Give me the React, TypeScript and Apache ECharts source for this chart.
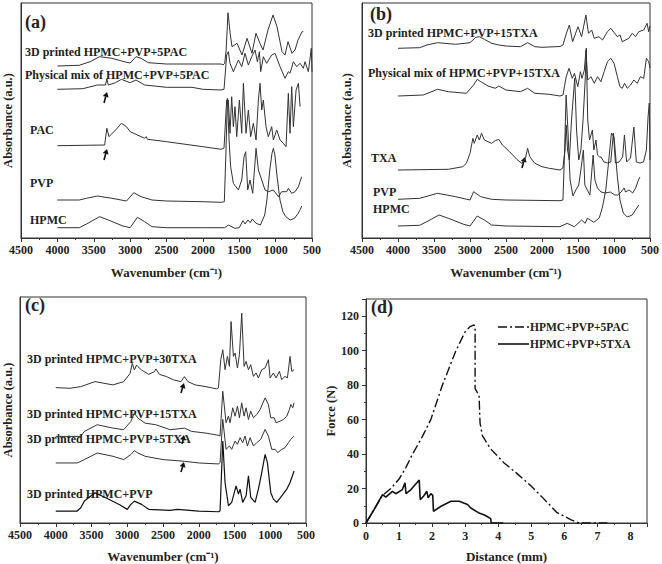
import React, { useEffect, useRef } from "react";
import * as echarts from "echarts";

// ---------------- Panel (a) spectra: [wavenumber cm-1, absorbance a.u.] ----------------
const aPrinted5PAC = [[4000,172],[3700,172.7],[3550,176.3],[3420,181.3],[3250,179.7],[3050,175.7],[3000,175],[2920,181.3],[2850,179.7],[2750,175.3],[2500,174],[2000,174],[1750,174],[1723,173],[1700,174.7],[1680,188],[1655,225.3],[1625,204.7],[1600,191.3],[1530,194.7],[1462,183],[1393,199.7],[1325,184.7],[1270,204.7],[1215,194.7],[1173,188],[1105,208],[1036,223],[981,211.3],[912,186.3],[871,183],[830,196.3],[775,184.7],[734,188],[692,198],[637,206.3],[620,206.3]];
const aMix5PAC = [[4000,148.7],[3650,149.3],[3450,153],[3340,153],[3320,159],[3300,153],[3200,155.3],[3120,158.7],[3000,155.3],[2920,158],[2800,153],[2500,150.7],[2150,150.7],[2000,148.7],[1750,148],[1709,148.7],[1673,183],[1650,186.3],[1627,174.7],[1581,166.3],[1512,178],[1466,171.3],[1421,184.7],[1375,173],[1329,181.3],[1283,188],[1251,176.3],[1223,186.3],[1205,166.3],[1169,181.3],[1123,174.7],[1054,183],[1008,184.7],[939,171.3],[871,159.7],[825,166.3],[802,164.7],[756,176.3],[710,171.3],[664,174.7],[619,169.7],[596,176.3],[550,166.3],[510,189.7],[500,166]];
const aPAC = [[4000,92.3],[3350,93],[3320,109.7],[3290,101.3],[3200,108],[3120,114.7],[3050,111.3],[3000,106.3],[2800,99.7],[2780,101.3],[2760,98.7],[2500,96.3],[2000,91.3],[1750,88.7],[1709,90],[1673,138],[1650,138],[1627,104.7],[1604,141.3],[1581,111.3],[1558,131.3],[1535,101.3],[1498,138],[1466,104.7],[1443,154.7],[1407,104.7],[1375,128],[1343,101.3],[1306,114.7],[1269,98],[1237,138],[1214,154.7],[1191,128],[1169,138],[1132,111.3],[1100,101.3],[1054,111.3],[1031,98],[985,108],[939,98],[894,94.7],[857,91.3],[825,144.7],[802,104.7],[779,151.3],[756,111.3],[719,148],[687,154.7],[664,131.3]];
const aPVP = [[4000,38],[3700,38],[3600,39.7],[3450,42],[3250,39.7],[3050,37],[2950,45.3],[2850,41.3],[2700,38],[2500,37],[2000,36.3],[1750,35.7],[1705,36.3],[1682,88],[1663,139.7],[1640,98],[1618,71.3],[1581,54.7],[1512,48],[1466,58],[1434,81.3],[1411,86.3],[1384,48],[1352,58],[1315,44.7],[1269,89.7],[1237,68],[1191,58],[1146,48],[1100,46.3],[1031,48],[962,41.3],[917,46.3],[848,46.3],[825,49.7],[779,44.7],[733,46.3],[687,51.3],[642,61.3]];
const aHPMC = [[4000,10.3],[3700,10.3],[3600,14],[3420,21.3],[3300,18],[3100,12],[3000,10.3],[2900,20.7],[2800,16.3],[2700,11.3],[2500,10.3],[2000,10.3],[1700,10.3],[1650,13],[1560,9.7],[1500,10.3],[1450,17.3],[1420,14],[1380,18],[1350,15.3],[1320,19],[1270,14.7],[1210,13],[1150,23],[1120,38],[1080,68],[1050,84.7],[1031,89.7],[1010,83],[980,61.3],[940,38],[900,26.3],[860,21.3],[800,18],[740,19.7],[690,24.7],[660,28.7],[642,32]];

// ---------------- Panel (b) ----------------
const bPrinted15TXA = [[4000,189.7],[3700,190.3],[3600,193],[3450,195.3],[3200,193.7],[3000,195.3],[2920,200.7],[2870,201.3],[2800,198.7],[2700,194.7],[2600,193],[2500,192],[2300,191.3],[2200,195.3],[2100,191.3],[2000,190.7],[1750,191.5],[1709,193],[1660,205],[1620,213],[1575,196.3],[1500,211.3],[1450,201.3],[1390,223],[1355,204.7],[1310,208],[1275,199.7],[1210,201.3],[1160,198],[1091,206.3],[1045,209.7],[990,204.7],[953,201.3],[917,203],[885,196.3],[839,198],[793,199.7],[747,204.7],[701,201.3],[656,206.3],[587,208],[541,214.7],[518,206.3],[500,212]];
const bMix15TXA = [[4000,142],[3650,143],[3450,148.7],[3300,146.3],[3050,144.7],[2950,153],[2900,158.7],[2850,156.3],[2750,152],[2650,149.7],[2600,152],[2500,148],[2300,146.3],[2200,149.7],[2100,144.7],[1900,143.7],[1750,142],[1709,143],[1664,161.3],[1625,169.7],[1580,159.7],[1549,164.7],[1503,151.3],[1467,166.3],[1444,159.7],[1412,168],[1389,188],[1366,158],[1320,161.3],[1274,154.7],[1228,161.3],[1182,156.3],[1137,166.3],[1091,176.3],[1045,179.7],[999,174.7],[953,161.3],[917,151.3],[885,149.7],[853,154.7],[816,149.7],[770,153],[724,158],[678,154.7],[633,161.3],[587,159.7],[550,179.7],[518,176.3],[500,170]];
const bTXA = [[4000,68],[3300,68.7],[3100,71.3],[3050,74.7],[3000,84.7],[2960,99.7],[2940,94.7],[2900,103],[2870,98],[2840,104.7],[2800,98],[2750,96.3],[2700,94.7],[2650,97.3],[2600,98.7],[2550,93],[2450,86.3],[2350,78.7],[2280,74.7],[2230,79.7],[2200,89.7],[2170,81.3],[2100,74.7],[2000,71.3],[1900,69.7],[1750,68],[1710,70],[1680,88],[1665,113],[1645,88],[1620,78],[1590,118],[1545,160],[1520,108],[1490,78],[1460,88],[1430,118],[1400,158],[1385,190],[1365,118],[1340,98],[1300,108],[1280,88],[1250,98],[1230,83],[1200,81],[1180,81],[1140,76],[1090,75],[1045,76],[1008,105],[980,75],[930,76],[880,81],[855,103],[825,76],[770,80],[724,111],[690,76],[640,75],[590,76],[550,88],[527,121],[510,135],[500,78]];
const bPVP = [[4000,38.7],[3700,39.7],[3450,44.7],[3200,41.3],[3000,38],[2950,46.3],[2850,41.3],[2700,38.7],[2500,38],[1750,37.3],[1709,38],[1690,78],[1665,143],[1640,108],[1610,58],[1570,42],[1530,48],[1490,53],[1460,68],[1425,88],[1405,53],[1370,48],[1335,43],[1290,83],[1265,58],[1230,50],[1180,46],[1120,45],[1050,46],[990,43],[950,43],[900,46],[860,50],[840,46],[790,48],[740,45],[700,50],[660,58],[640,61]];
const bHPMC = [[4000,12],[3700,12.7],[3600,16.3],[3430,23],[3300,19.7],[3100,14],[3000,12],[2900,22],[2800,18],[2700,13],[2500,12],[1750,11.3],[1650,14.7],[1550,11.3],[1450,18],[1400,14.7],[1370,19.7],[1330,18],[1280,15.7],[1205,20],[1160,31],[1114,48],[1068,81],[1036,105],[999,101],[953,61],[917,38],[871,25],[816,21],[747,23],[701,28],[656,33]];

// ---------------- Panel (c) ----------------
const c30TXA = [[4000,136],[3800,135.3],[3650,137],[3450,142],[3200,138.7],[3050,142],[2960,150.3],[2930,160.3],[2900,153.7],[2870,158.7],[2850,157],[2800,153.7],[2700,149.3],[2620,152],[2600,154.7],[2550,149.3],[2450,147],[2350,143.7],[2250,142],[2200,147],[2150,142],[2050,138.7],[1900,137],[1750,134.7],[1725,135.7],[1692,164],[1664,174],[1632,154],[1599,167.3],[1571,157.3],[1548,202.3],[1515,167.3],[1492,170.7],[1459,155.7],[1431,169],[1399,210.7],[1366,157.3],[1338,162.3],[1305,154],[1273,159],[1235,147.3],[1198,150.7],[1166,145.7],[1119,154],[1072,155.7],[1026,164],[1002,145.7],[956,150.7],[918,145.7],[872,152.3],[839,144],[793,147.3],[760,145.7],[723,167.3],[699,152.3],[667,154]];
const c15TXA = [[4000,87],[3650,87],[3600,92],[3420,98.7],[3200,95.3],[3050,93.7],[2950,102],[2900,110.3],[2850,105.3],[2750,100.3],[2600,98.7],[2400,93.7],[2200,95.3],[2100,92],[1900,90.3],[1720,88],[1702,87.3],[1664,132.3],[1618,100.7],[1585,107.3],[1562,100.7],[1525,115.7],[1492,107.3],[1459,117.3],[1431,105.7],[1399,120.7],[1366,107.3],[1338,115.7],[1305,104],[1273,112.3],[1235,105.7],[1189,109],[1142,114],[1072,125.7],[1026,119],[993,105.7],[946,105.7],[918,100.7],[862,102.3],[816,104],[769,107.3],[732,114],[713,119],[685,115.7],[667,120.7]];
const c5TXA = [[4000,60.3],[3700,60.3],[3600,63.7],[3420,70.3],[3200,67],[3050,63.7],[2950,68.7],[2900,72.7],[2850,70.3],[2750,67],[2500,63.7],[2200,62],[2000,60.3],[1720,59.3],[1702,60.7],[1664,104],[1618,74],[1571,77.3],[1539,74],[1492,82.3],[1459,79],[1422,85.7],[1385,80.7],[1352,87.3],[1319,77.3],[1282,85.7],[1235,77.3],[1189,80.7],[1133,84],[1072,94],[1026,87.3],[979,74],[932,74],[895,70.7],[839,74],[793,75.7],[746,80.7],[713,84],[667,87.3]];
const cBase = [[4000,12],[3700,12],[3650,15.3],[3600,22],[3450,30.3],[3300,25.3],[3100,18],[3000,13.7],[2950,18.7],[2900,22],[2800,18.7],[2700,13.7],[2400,12.7],[2300,13.7],[2000,12],[1720,11.3],[1702,12.3],[1664,82.3],[1632,40.7],[1585,17.3],[1539,20.7],[1478,37.3],[1445,29],[1422,34],[1385,20.7],[1338,27.3],[1305,47.3],[1273,25.7],[1212,20.7],[1166,34],[1119,50.7],[1072,69],[1040,60.7],[993,30.7],[956,24],[909,20.7],[839,27.3],[769,34],[723,40.7],[667,52.3]];

// ---------------- Panel (d) force–distance ----------------
const distPAC = [0,0.5,0.75,1.0,1.2,1.41,1.7,1.96,2.31,2.72,3.0,3.15,3.27,3.3,3.3,3.42,3.45,3.52,3.77,4.17,4.58,4.98,5.38,5.78,6.19,6.44,7.3];
const forcePAC = [0,16,20,25.5,32,40,50,60,80,100,111,114,115,113,78,74,58,50.7,43,35,28.5,21.7,14,6,2,0,0];
const distTXA = [0,0.25,0.5,0.6,0.8,0.9,1.1,1.18,1.21,1.36,1.61,1.64,1.74,1.84,1.88,1.96,2.02,2.04,2.27,2.57,2.82,3.07,3.17,3.4,3.6,3.77,3.79,4.15];
const forceTXA = [0,8,16.5,15,18.4,17,19.4,23.3,17,19.4,24.9,13.6,15.5,18.4,14.6,17,16,6.8,9.7,12.6,12.6,10.7,8.7,6,4.5,2.5,0,0];

const legendNames = ["HPMC+PVP+5PAC", "HPMC+PVP+5TXA"];

const FONT = '"Liberation Serif", "Times New Roman", serif';
const INK = "#222";
const DASHDOT = [9, 3, 2, 3];

function spectrum(data: number[][], idx: number) {
  return {
    type: "line",
    xAxisIndex: idx,
    yAxisIndex: idx,
    data,
    symbol: "none",
    showSymbol: false,
    silent: true,
    lineStyle: { width: 1, color: "#333" },
  };
}

const plain = (v: number) => String(v);

function wnAxis(idx: number) {
  return {
    gridIndex: idx,
    type: "value",
    min: 500,
    max: 4500,
    interval: 500,
    inverse: true,
    axisLine: { lineStyle: { color: "#333", width: 1 } },
    axisTick: { show: true, length: 4, lineStyle: { color: "#333" } },
    minorTick: { show: true, splitNumber: 2, length: 2, lineStyle: { color: "#333" } },
    splitLine: { show: false },
    axisLabel: { fontFamily: FONT, fontWeight: "bold", fontSize: 12, color: INK, margin: 6, formatter: plain },
    name: "Wavenumber (cm⁻¹)",
    nameLocation: "middle",
    nameGap: 28,
    nameTextStyle: { fontFamily: FONT, fontWeight: "bold", fontSize: 13, color: INK },
  };
}

function absAxis(idx: number, max: number, gap: number) {
  return {
    gridIndex: idx,
    type: "value",
    min: 0,
    max,
    axisLine: { show: true, lineStyle: { color: "#333" } },
    axisTick: { show: false },
    axisLabel: { show: false },
    splitLine: { show: false },
    name: "Absorbance (a.u.)",
    nameLocation: "middle",
    nameGap: gap,
    nameTextStyle: { fontFamily: FONT, fontWeight: "bold", fontSize: 12.5, color: INK },
  };
}

function label(text: string, x: number, y: number, size = 12) {
  return {
    type: "text",
    x,
    y,
    silent: true,
    style: {
      text,
      font: `bold ${size}px ${FONT}`,
      fill: INK,
      align: "left",
      verticalAlign: "middle",
      textAlign: "left",
      textVerticalAlign: "middle",
    },
  };
}

function arrow(x1: number, y1: number, x2: number, y2: number) {
  const dx = x2 - x1, dy = y2 - y1;
  const L = Math.hypot(dx, dy);
  const ux = dx / L, uy = dy / L;
  const nx = -uy, ny = ux;
  const bx = x2 - ux * 5, by = y2 - uy * 5;
  return {
    type: "group",
    silent: true,
    children: [
      { type: "line", shape: { x1, y1, x2: bx, y2: by }, style: { stroke: "#111", lineWidth: 1.6 } },
      {
        type: "polygon",
        shape: { points: [[x2, y2], [bx + nx * 3, by + ny * 3], [bx - nx * 3, by - ny * 3]] },
        style: { fill: "#111" },
      },
    ],
  };
}

function legendRow(name: string, y: number, dash: number[] | null, width: number) {
  return [
    {
      type: "line",
      silent: true,
      shape: { x1: 498, y1: y, x2: 529, y2: y },
      style: { stroke: "#111", lineWidth: width, lineDash: dash || undefined },
    },
    label(name, 530, y, 11.5),
  ];
}

const gridBase = { show: true, borderColor: "#333", borderWidth: 1, backgroundColor: "transparent" };

const option: any = {
  animation: false,
  backgroundColor: "#fff",
  grid: [
    { ...gridBase, left: 21, top: 3, width: 291, height: 235 },
    { ...gridBase, left: 362, top: 3, width: 291, height: 235 },
    { ...gridBase, left: 20, top: 297, width: 286, height: 227 },
    { ...gridBase, left: 366, top: 299, width: 281, height: 224 },
  ],
  xAxis: [
    wnAxis(0),
    wnAxis(1),
    { ...wnAxis(2), nameGap: 27 },
    {
      gridIndex: 3,
      type: "value",
      min: 0,
      max: 8.5,
      interval: 1,
      axisLine: { lineStyle: { color: "#333" } },
      axisTick: { show: true, length: 4, lineStyle: { color: "#333" } },
      minorTick: { show: true, splitNumber: 2, length: 2, lineStyle: { color: "#333" } },
      splitLine: { show: false },
      axisLabel: { fontFamily: FONT, fontWeight: "bold", fontSize: 12, color: INK, margin: 7, showMaxLabel: false },
      name: "Distance (mm)",
      nameLocation: "middle",
      nameGap: 27,
      nameTextStyle: { fontFamily: FONT, fontWeight: "bold", fontSize: 13, color: INK },
    },
    {
      gridIndex: 3,
      type: "value",
      position: "top",
      min: 0,
      max: 8.5,
      interval: 1,
      axisLine: { show: false },
      axisTick: { show: true, inside: true, length: 4, lineStyle: { color: "#333" } },
      minorTick: { show: false },
      splitLine: { show: false },
      axisLabel: { show: false },
    },
  ],
  yAxis: [
    absAxis(0, 235, 7),
    absAxis(1, 235, 9),
    absAxis(2, 227, 6),
    {
      gridIndex: 3,
      type: "value",
      min: 0,
      max: 130,
      interval: 20,
      axisLine: { show: true, lineStyle: { color: "#333" } },
      axisTick: { show: true, length: 4, lineStyle: { color: "#333" } },
      minorTick: { show: true, splitNumber: 2, length: 2, lineStyle: { color: "#333" } },
      splitLine: { show: false },
      axisLabel: { fontFamily: FONT, fontWeight: "bold", fontSize: 12, color: INK, margin: 7, showMaxLabel: false },
      name: "Force (N)",
      nameLocation: "middle",
      nameGap: 26,
      nameTextStyle: { fontFamily: FONT, fontWeight: "bold", fontSize: 12.5, color: INK },
    },
    {
      gridIndex: 3,
      type: "value",
      position: "right",
      min: 0,
      max: 130,
      interval: 20,
      axisLine: { show: false },
      axisTick: { show: true, inside: true, length: 4, lineStyle: { color: "#333" } },
      splitLine: { show: false },
      axisLabel: { show: false },
    },
  ],
  series: [
    spectrum(aPrinted5PAC, 0),
    spectrum(aMix5PAC, 0),
    spectrum(aPAC, 0),
    spectrum(aPVP, 0),
    spectrum(aHPMC, 0),
    spectrum(bPrinted15TXA, 1),
    spectrum(bMix15TXA, 1),
    spectrum(bTXA, 1),
    spectrum(bPVP, 1),
    spectrum(bHPMC, 1),
    spectrum(c30TXA, 2),
    spectrum(c15TXA, 2),
    spectrum(c5TXA, 2),
    { ...spectrum(cBase, 2), lineStyle: { width: 1.2, color: "#111" } },
    {
      name: legendNames[0],
      type: "line",
      xAxisIndex: 3,
      yAxisIndex: 3,
      data: distPAC.map((d, i) => [d, forcePAC[i]]),
      symbol: "none",
      showSymbol: false,
      lineStyle: { width: 1.4, color: "#111", type: DASHDOT },
    },
    {
      name: legendNames[1],
      type: "line",
      xAxisIndex: 3,
      yAxisIndex: 3,
      data: distTXA.map((d, i) => [d, forceTXA[i]]),
      symbol: "none",
      showSymbol: false,
      lineStyle: { width: 1.6, color: "#111" },
    },
  ],
  graphic: [
    label("(a)", 25, 22, 18),
    label("3D printed HPMC+PVP+5PAC", 25, 52),
    label("Physical mix of HPMC+PVP+5PAC", 25, 75),
    label("PAC", 30, 130),
    label("PVP", 30, 183),
    label("HPMC", 30, 220),
    arrow(104, 103, 107, 92),
    arrow(104, 160, 107, 149),

    label("(b)", 370, 14, 18),
    label("3D printed HPMC+PVP+15TXA", 368, 33),
    label("Physical mix of HPMC+PVP+15TXA", 368, 73),
    label("TXA", 371, 158),
    label("PVP", 373, 192),
    label("HPMC", 373, 209),
    arrow(522, 168, 525, 157),

    label("(c)", 25, 305, 18),
    label("3D printed HPMC+PVP+30TXA", 27, 359),
    label("3D printed HPMC+PVP+15TXA", 27, 414),
    label("3D printed HPMC+PVP+5TXA", 27, 439),
    label("3D printed HPMC+PVP", 27, 494),
    arrow(181, 393, 184, 383),
    arrow(182, 444, 184, 435),
    arrow(181, 472, 184, 462),

    label("(d)", 371, 307, 18),
    ...legendRow(legendNames[0], 327, DASHDOT, 1.4),
    ...legendRow(legendNames[1], 344, null, 1.6),
  ],
};

export default function App() {
  const ref = useRef<HTMLDivElement>(null);
  useEffect(() => {
    if (!ref.current) return;
    const chart = echarts.init(ref.current, null, { renderer: "svg" });
    chart.setOption(option);
    return () => chart.dispose();
  }, []);
  return (
    <div
      ref={ref}
      style={{ position: "absolute", left: 0, top: 0, width: 662, height: 564, background: "#fff" }}
    />
  );
}
